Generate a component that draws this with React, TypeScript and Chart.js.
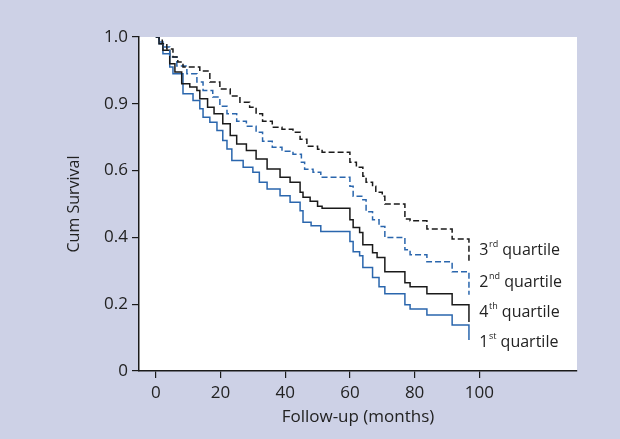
import React, { useEffect, useRef } from "react";
import { Chart, registerables } from "chart.js";

Chart.register(...registerables);

// ---- data ----
const xTickValues = [0, 20, 40, 60, 80, 100];
const yTickValues = [0, 0.2, 0.4, 0.6, 0.8, 1.0];
const yTickLabels = ["0", "0.2", "0.4", "0.6", "0.9", "1.0"];

// 3rd quartile (black dashed)
const q3Months = [0, 1, 2, 3.4, 5.3, 6.8, 8.4, 13.6, 16.7, 19.8, 23, 26, 29, 31, 33, 36, 39, 42.4, 44.6, 46.7, 50, 51.4, 60, 62, 64, 65, 67, 68, 70, 70.8, 77, 78.6, 83.8, 91.6, 96.8];
const q3Values = [1, 0.99, 0.98, 0.964, 0.94, 0.925, 0.91, 0.898, 0.865, 0.844, 0.823, 0.805, 0.79, 0.77, 0.748, 0.73, 0.724, 0.715, 0.694, 0.673, 0.664, 0.655, 0.625, 0.61, 0.583, 0.565, 0.553, 0.535, 0.523, 0.5, 0.455, 0.45, 0.425, 0.395, 0.325];

// 2nd quartile (blue dashed)
const q2Months = [0, 1, 2.2, 4.3, 6.5, 9.6, 12.7, 14.6, 17.6, 19.8, 22, 25, 28, 31, 33, 36, 39, 42.4, 45, 46, 48.6, 51, 60, 61, 64, 65, 67, 69, 70.8, 77, 78.6, 83.8, 91.6, 96.8];
const q2Values = [1, 0.985, 0.97, 0.94, 0.913, 0.89, 0.865, 0.84, 0.82, 0.793, 0.77, 0.748, 0.733, 0.715, 0.688, 0.67, 0.658, 0.649, 0.625, 0.604, 0.595, 0.58, 0.553, 0.523, 0.513, 0.477, 0.453, 0.433, 0.4, 0.363, 0.348, 0.327, 0.297, 0.228];

// 4th quartile (black solid)
const q4Months = [0, 1, 2.2, 4.3, 5.9, 8, 10.5, 12.7, 13.6, 16, 18, 20.7, 23, 25, 28, 31, 34.4, 38.4, 41.5, 44.6, 45.5, 47.7, 50, 51.4, 60, 61, 63, 64, 67, 68.4, 70.8, 77, 78.6, 83.8, 91.6, 96.8];
const q4Values = [1, 0.98, 0.96, 0.92, 0.895, 0.86, 0.85, 0.84, 0.815, 0.79, 0.77, 0.74, 0.705, 0.68, 0.66, 0.635, 0.605, 0.58, 0.565, 0.535, 0.52, 0.508, 0.493, 0.487, 0.453, 0.43, 0.415, 0.378, 0.354, 0.34, 0.297, 0.264, 0.252, 0.231, 0.198, 0.147];

// 1st quartile (blue solid)
const q1Months = [0, 1, 2.2, 4.3, 5.3, 8.4, 11.5, 13.6, 14.6, 16.7, 18.9, 20.7, 22, 23.5, 27, 30, 32, 34.4, 38.4, 41.5, 44.6, 45.5, 48, 51, 60, 61, 63, 64, 67, 69, 70.8, 77, 78.6, 83.8, 91.6, 96.8];
const q1Values = [1, 0.98, 0.95, 0.91, 0.89, 0.83, 0.81, 0.785, 0.76, 0.745, 0.72, 0.69, 0.665, 0.63, 0.61, 0.595, 0.565, 0.545, 0.525, 0.505, 0.48, 0.445, 0.435, 0.418, 0.388, 0.357, 0.345, 0.31, 0.28, 0.252, 0.231, 0.198, 0.186, 0.168, 0.138, 0.093];

const labelMain = ["3", "2", "4", "1"];
const labelSup = ["rd", "nd", "th", "st"];
const labelRest = [" quartile", " quartile", " quartile", " quartile"];
const labelValues = [0.36, 0.266, 0.174, 0.087];
const labelMonth = 100;

const BLACK = "#1a1a1a";
const BLUE = "#2a66ad";
const TEXT = "#222222";
const FONT = "'Open Sans', 'Noto Sans', sans-serif";

const toPoints = (ms: number[], vs: number[]) => ms.map((m, i) => ({ x: m, y: vs[i] }));

const plotBgPlugin = {
  id: "plotBg",
  beforeDraw(chart: any) {
    const { ctx, chartArea } = chart;
    ctx.save();
    ctx.fillStyle = "#ffffff";
    ctx.fillRect(chartArea.left, chartArea.top, chartArea.right - chartArea.left, chartArea.bottom - chartArea.top);
    ctx.restore();
  },
};

const labelPlugin = {
  id: "quartileLabels",
  afterDraw(chart: any) {
    const { ctx } = chart;
    const xs = chart.scales.x;
    const ys = chart.scales.y;
    ctx.save();
    ctx.fillStyle = TEXT;
    ctx.textBaseline = "middle";
    ctx.textAlign = "left";
    labelMain.forEach((m, i) => {
      let x = xs.getPixelForValue(labelMonth);
      const y = ys.getPixelForValue(labelValues[i]);
      ctx.font = `16px ${FONT}`;
      ctx.fillText(m, x, y);
      x += ctx.measureText(m).width + 0.5;
      ctx.font = `9px ${FONT}`;
      ctx.fillText(labelSup[i], x, y - 6);
      x += ctx.measureText(labelSup[i]).width;
      ctx.font = `16px ${FONT}`;
      ctx.fillText(labelRest[i], x, y);
    });
    ctx.restore();
  },
};

export default function App() {
  const ref = useRef<HTMLCanvasElement>(null);

  useEffect(() => {
    document.body.style.margin = "0";
    document.body.style.background = "#cdd1e6";
    const canvas = ref.current!;
    const chart = new Chart(canvas, {
      type: "line",
      data: {
        datasets: [
          { label: "3rd quartile", data: toPoints(q3Months, q3Values), borderColor: BLACK, borderDash: [6, 3] },
          { label: "2nd quartile", data: toPoints(q2Months, q2Values), borderColor: BLUE, borderDash: [6, 3] },
          { label: "4th quartile", data: toPoints(q4Months, q4Values), borderColor: BLACK },
          { label: "1st quartile", data: toPoints(q1Months, q1Values), borderColor: BLUE },
        ].map((d) => ({ ...d, stepped: true, pointRadius: 0, borderWidth: 1.5, fill: false })) as any,
      },
      options: {
        responsive: false,
        animation: false,
        events: [],
        layout: { padding: { left: 61, top: 37, right: 43, bottom: 8 } },
        plugins: { legend: { display: false }, tooltip: { enabled: false } },
        scales: {
          x: {
            type: "linear",
            min: -5.2,
            max: 130.2,
            afterBuildTicks: (axis: any) => {
              axis.ticks = xTickValues.map((v) => ({ value: v }));
            },
            afterFit: (axis: any) => {
              axis.height = 60;
            },
            grid: { display: true, drawOnChartArea: false, drawTicks: true, tickLength: 7, color: BLACK, lineWidth: 1.2 },
            border: { display: true, color: BLACK, width: 1.5 },
            ticks: { color: TEXT, font: { family: FONT, size: 17 }, padding: 5, maxRotation: 0, callback: (v: any) => String(v) },
            title: { display: true, text: "Follow-up (months)", color: TEXT, font: { family: FONT, size: 17 }, padding: { top: 4, bottom: 4 } },
          },
          y: {
            type: "linear",
            min: 0,
            max: 1,
            afterBuildTicks: (axis: any) => {
              axis.ticks = yTickValues.map((v) => ({ value: v }));
            },
            afterFit: (axis: any) => {
              axis.width = 78;
            },
            grid: { display: true, drawOnChartArea: false, drawTicks: true, tickLength: 7, color: BLACK, lineWidth: 1.2 },
            border: { display: true, color: BLACK, width: 1.5 },
            ticks: { color: TEXT, font: { family: FONT, size: 17 }, padding: 4, callback: (_v: any, i: number) => yTickLabels[i] },
            title: { display: true, text: "Cum Survival", color: TEXT, font: { family: FONT, size: 16 }, padding: { top: 4, bottom: 4 } },
          },
        },
      },
      plugins: [plotBgPlugin, labelPlugin],
    });
    return () => chart.destroy();
  }, []);

  return (
    <div style={{ width: 620, height: 439, background: "#cdd1e6" }}>
      <canvas ref={ref} width={620} height={439} style={{ display: "block" }} />
    </div>
  );
}
